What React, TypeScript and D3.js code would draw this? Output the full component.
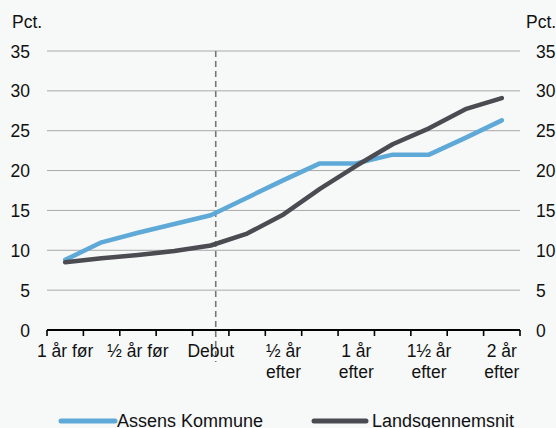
import React from "react";
import * as d3 from "d3";

const categories = ["-12", "-9", "-6", "-3", "0", "3", "6", "9", "12", "15", "18", "21", "24"];
const tickLabels: Record<string, string[]> = {
  "-12": ["1 år før"],
  "-6": ["½ år før"],
  "0": ["Debut"],
  "6": ["½ år", "efter"],
  "12": ["1 år", "efter"],
  "18": ["1½ år", "efter"],
  "24": ["2 år", "efter"],
};
const assens = [8.8, 11.0, 12.2, 13.3, 14.4, 16.6, 18.8, 20.9, 20.9, 22.0, 22.0, 24.1, 26.3];
const lands = [8.5, 9.0, 9.4, 9.9, 10.6, 12.1, 14.5, 17.7, 20.6, 23.3, 25.3, 27.7, 29.1];
const yTicks = [0, 5, 10, 15, 20, 25, 30, 35];
const seriesNames = ["Assens Kommune", "Landsgennemsnit"];
const colors = ["#5ea9d7", "#4b4b51"];

export default function App() {
  const W = 556, H = 428;
  const left = 47, right = 520, top = 51, bottom = 330;
  const x = d3.scaleBand<string>().domain(categories).range([left, right]).padding(0);
  const y = d3.scaleLinear().domain([0, 35]).range([bottom, top]);
  const cx = (c: string) => (x(c) as number) + x.bandwidth() / 2;
  const line = d3.line<number>().x((_, i) => cx(categories[i])).y((d) => y(d));
  const font = "'Liberation Sans', Arial, sans-serif";
  const fs = 17.5;
  const tickXs = categories.map((c) => x(c) as number).concat([right]);
  const debutX = cx("0") + 5;
  return (
    <svg width={W} height={H} style={{ position: "absolute", left: 0, top: 0, background: "#f7f9f9" }} fontFamily={font}>
      <rect x={0} y={0} width={W} height={H} fill="#f7f9f9" />
      {yTicks.filter((t) => t > 0).map((t) => (
        <line key={t} x1={left} x2={right} y1={y(t)} y2={y(t)} stroke="#a8a8a8" strokeWidth={1} />
      ))}
      {yTicks.map((t) => (
        <g key={"l" + t}>
          <text x={30} y={y(t) + 6.5} textAnchor="end" fontSize={fs} fill="#111">{t}</text>
          <text x={536} y={y(t) + 6.5} textAnchor="start" fontSize={fs} fill="#111">{t}</text>
        </g>
      ))}
      <text x={12} y={28} fontSize={fs} fill="#111">Pct.</text>
      <text x={526} y={28} fontSize={fs} fill="#111">Pct.</text>
      <line x1={debutX} x2={debutX} y1={top} y2={362} stroke="#777" strokeWidth={1.6} strokeDasharray="6,4" />
      {[assens, lands].map((s, i) => (
        <path key={i} d={line(s) as string} fill="none" stroke={colors[i]} strokeWidth={4.5} strokeLinejoin="round" strokeLinecap="round" />
      ))}
      <line x1={left} x2={right} y1={bottom} y2={bottom} stroke="#000" strokeWidth={2.2} />
      {tickXs.map((tx, i) => (
        <line key={"t" + i} x1={tx} x2={tx} y1={bottom} y2={bottom + 6} stroke="#000" strokeWidth={1.6} />
      ))}
      {categories.map((c) =>
        tickLabels[c] ? (
          <text key={"x" + c} textAnchor="middle" fontSize={fs} fill="#111">
            {tickLabels[c].map((l, j) => (
              <tspan key={j} x={cx(c)} y={357 + j * 21}>{l}</tspan>
            ))}
          </text>
        ) : null
      )}
      <line x1={61} x2={115} y1={421} y2={421} stroke={colors[0]} strokeWidth={5} strokeLinecap="round" />
      <text x={117} y={427} fontSize={18} fill="#111">{seriesNames[0]}</text>
      <line x1={314} x2={366} y1={421} y2={421} stroke={colors[1]} strokeWidth={5} strokeLinecap="round" />
      <text x={372} y={427} fontSize={18} fill="#111">{seriesNames[1]}</text>
    </svg>
  );
}
